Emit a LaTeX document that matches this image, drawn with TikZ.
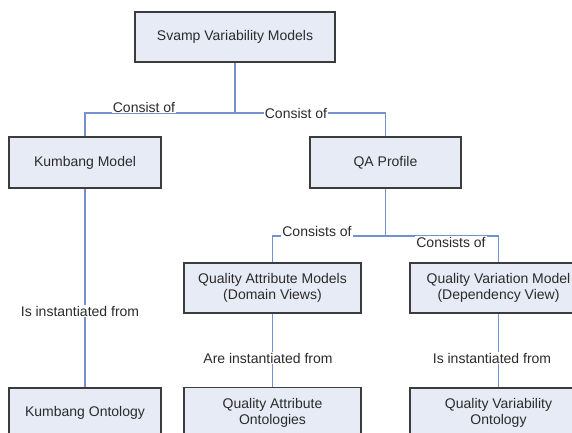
\documentclass[tikz,border=0pt]{standalone}
\usepackage{fontspec}
\setmainfont{Liberation Sans}
\definecolor{boxfill}{HTML}{E7EBF5}
\definecolor{boxline}{HTML}{3C3C3C}
\definecolor{connblue}{HTML}{7391CF}
\definecolor{textcol}{HTML}{2B2B2B}
\begin{document}
\begin{tikzpicture}[x=1pt,y=-1pt,
  box/.style={draw=boxline, line width=1.4pt, fill=boxfill, align=center,
    font=\fontsize{14}{16}\selectfont, inner sep=0pt, text=textcol},
  conn/.style={draw=connblue, line width=1.3pt},
  lbl/.style={fill=white, inner sep=1pt, font=\fontsize{14}{16}\selectfont, text=textcol}]
\fill[white] (0,0) rectangle (572,433);
\useasboundingbox (0,0) rectangle (572,433);
% boxes
\node[box, minimum width=200pt, minimum height=50pt] (svm) at (235,37) {Svamp Variability Models};
\node[box, minimum width=152pt, minimum height=51pt] (km) at (85,162.5) {Kumbang Model};
\node[box, minimum width=151pt, minimum height=51pt] (qa) at (385.5,162.5) {QA Profile};
\node[box, minimum width=177pt, minimum height=50pt] (qam) at (272.5,288) {Quality Attribute Models\\(Domain Views)};
\node[box, minimum width=177pt, minimum height=50pt] (qvm) at (498.5,288) {Quality Variation Model\\(Dependency View)};
\node[box, minimum width=152pt, minimum height=50pt] (ko) at (85,413) {Kumbang Ontology};
\node[box, minimum width=177pt, minimum height=50pt] (qao) at (272.5,412.5) {Quality Attribute\\Ontologies};
\node[box, minimum width=177pt, minimum height=50pt] (qvo) at (498.5,413) {Quality Variability\\Ontology};
% junctions
\coordinate (j1) at (235,113);
\coordinate (j2) at (385.5,236);
% connectors
\draw[conn] (svm) -- (j1) -| (km);
\draw[conn] (j1) -| (qa);
\draw[conn] (qa) -- (j2) -| (qam);
\draw[conn] (j2) -| (qvm);
\draw[conn] (km) -- (ko);
\draw[conn] (qam) -- (qao);
\draw[conn] (qvm) -- (qvo);
% labels
\node[lbl] (c1) at (144,107) {Consist of};
\node[lbl] (c2) at (296,113) {Consist of};
\node[lbl] (c3) at (317,231) {Consists of};
\node[lbl] (c4) at (451,242) {Consists of};
\node[lbl] (i1) at (80,311) {Is instantiated from};
\node[lbl] (i2) at (268,358) {Are instantiated from};
\node[lbl] (i3) at (492,358) {Is instantiated from};
\end{tikzpicture}
\end{document}
